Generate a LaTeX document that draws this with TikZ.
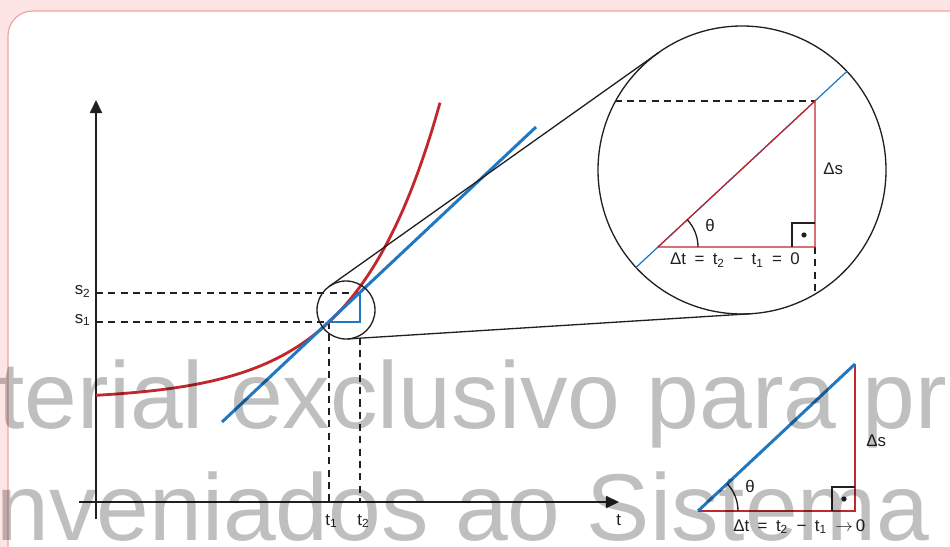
\documentclass[tikz,border=0pt]{standalone}
\usepackage{fontspec}
\setmainfont{Liberation Sans}
\usepackage{xcolor}
\usepackage{tikz}
\usetikzlibrary{arrows.meta, calc}

\definecolor{bgpink}{HTML}{FDE5E5}
\definecolor{framepink}{HTML}{F4A3A3}
\definecolor{inkblack}{HTML}{231F20}
\definecolor{curvered}{HTML}{C1272D}
\definecolor{tanblue}{HTML}{1F78C1}

\newcommand{\gap}{\enspace}

\begin{document}
\begin{tikzpicture}[
    x=0.02cm, y=-0.02cm,
    axis/.style = {
        draw=inkblack, line width=0.75pt,
        -{Triangle[length=7.5pt, width=7pt]}
    },
    guide/.style = {draw=inkblack, line width=0.6pt, dash pattern=on 4pt off 3pt},
    lens/.style = {draw=inkblack, line width=0.75pt},
    curve/.style = {draw=curvered, line width=1.6pt},
    tangent/.style = {draw=tanblue, line width=1.7pt},
    thinred/.style = {draw=curvered, line width=0.7pt},
    thinblue/.style = {draw=tanblue, line width=0.7pt},
    rightmark/.style = {draw=inkblack, line width=1.4pt},
    lbl/.style = {font=\fontsize{9.6}{11}\selectfont, text=inkblack, inner sep=0pt},
    wmark/.style = {
        font=\fontsize{54}{54}\selectfont, text=black, opacity=0.25,
        inner sep=0pt, anchor=base west
    }
]
\useasboundingbox (0,0) rectangle (950,547);
\clip (0,0) rectangle (950,547);

%% ---- FRAME ----
\fill[bgpink] (0,0) rectangle (950,547);
\draw[framepink, fill=white, line width=0.7pt, rounded corners=14pt]
    (8,11) rectangle (990,600);

%% ---- AXES ----
\coordinate (ybot) at (96,519);
\coordinate (ytop) at (96,100);
\coordinate (xbeg) at (79,502);
\coordinate (xend) at (619,502);
\draw[axis] (ybot) -- (ytop);
\draw[axis] (xbeg) -- (xend);

%% ---- GUIDES ----
\coordinate (p1) at (329,322);
\coordinate (p2) at (360,293);
\coordinate (q)  at (360,322);
\draw[guide] (96,322) -- (p1);
\draw[guide] (96,293) -- (p2);
\draw[guide] (p1) -- (329,502);
\draw[guide] (360,338) -- (360,502);
\draw[thinblue] (p1) -- (q) -- (p2);

%% ---- CURVE AND TANGENT ----
\draw[curve] plot[domain=96:440, samples=80, smooth]
    (\x, {502 - 102 - 78*exp(0.01205*(\x-329))});
\coordinate (tb) at (222,422);
\coordinate (te) at (536,127);
\draw[tangent] (tb) -- (te);

%% ---- LENS ----
\coordinate (c1) at (346,310);
\coordinate (c2) at (742,170);
\draw[lens] (c1) circle (29);
\draw[lens] (c2) circle (144);
\coordinate (u1) at ($(c1)+(-125.4:29)$);
\coordinate (u2) at ($(c2)+(-125.4:144)$);
\coordinate (l1) at ($(c1)+(86.4:29)$);
\coordinate (l2) at ($(c2)+(86.4:144)$);
\draw[lens] (u1) -- (u2);
\draw[lens] (l1) -- (l2);

%% ---- ZOOMED TRIANGLE ----
\coordinate (a1) at (658,247);
\coordinate (b1) at (815,247);
\coordinate (a2) at (815,101);
\begin{scope}
    \clip (c2) circle (144);
    \draw[thinblue] ($(a1)!-1!(a2)$) -- ($(a1)!2!(a2)$);
    \draw[guide] (590,101) -- (a2);
    \draw[guide] (b1) -- (815,330);
\end{scope}
\draw[thinred] (a1) -- (b1) -- (a2) -- cycle;
\draw[rightmark] ($(b1)+(-23,0)$) |- ($(b1)+(0,-24)$);
\fill[inkblack] ($(b1)+(-11,-12)$) circle (2.6);
\draw[lens] ($(a1)+(40,0)$) arc[start angle=0, end angle=-43, radius=40];

\node[lbl, anchor=base]      (thb) at (710,232) {θ};
\node[lbl, anchor=base]      (dtb) at (735,265)
    {Δt\gap=\gap t\textsubscript{2}\gap−\gap t\textsubscript{1}\gap=\gap 0};
\node[lbl, anchor=base west] (dsb) at (823,175) {Δs};

%% ---- LIMIT TRIANGLE ----
\coordinate (d1) at (698,511);
\coordinate (d2) at (855,511);
\coordinate (d3) at (855,364);
\draw[thinred] (d1) -- (d2) -- (d3);
\draw[tangent] (d1) -- (d3);
\draw[rightmark] ($(d2)+(-23,0)$) |- ($(d2)+(0,-24)$);
\fill[inkblack] ($(d2)+(-11,-12)$) circle (2.6);
\draw[lens] ($(d1)+(40,0)$) arc[start angle=0, end angle=-43, radius=40];

\node[lbl, anchor=base]      (thl) at (750,492) {θ};
\node[lbl, anchor=base west] (dsl) at (866,446) {Δs};
\node[lbl, anchor=base west] (dtl) at (733,531)
    {Δt\gap=\gap t\textsubscript{2}\gap−\gap t\textsubscript{1}\gap$\rightarrow$\,0};

%% ---- AXIS LABELS ----
\node[lbl, anchor=base east] (s2) at (91,295) {s\textsubscript{2}};
\node[lbl, anchor=base east] (s1) at (91,323) {s\textsubscript{1}};
\node[lbl, anchor=base west] (t1) at (325,525) {t\textsubscript{1}};
\node[lbl, anchor=base west] (t2) at (357,525) {t\textsubscript{2}};
\node[lbl, anchor=base west] (tl) at (616,525) {t};

%% ---- WATERMARK ----
\node[wmark] (wm1) at (-2,428) {terial exclusivo para pr};
\node[wmark] (wm2) at (-4,540) {nveniados ao Sistema};

\end{tikzpicture}
\end{document}
